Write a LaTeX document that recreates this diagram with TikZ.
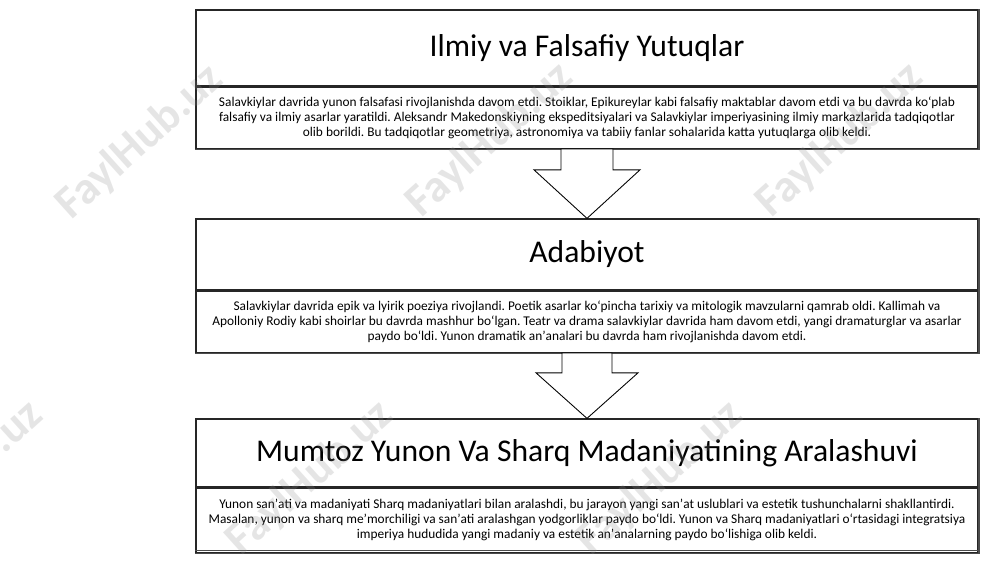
\documentclass[tikz,border=0pt]{standalone}
\usepackage{fontspec}
\setmainfont{Carlito}
\usetikzlibrary{calc}
\frenchspacing
\tikzset{
  titlebox/.style={draw=black!85, line width=0.7pt, fill=white, minimum width=156.4mm, inner sep=0pt, font=\fontsize{18}{21}\selectfont, text=black},
  bodybox/.style={draw=black!85, line width=0.7pt, fill=white, minimum width=156.4mm, inner sep=0pt, align=center, font=\fontsize{7.6}{8.6}\selectfont, text=black},
  shadowline/.style={draw=black!70, line width=0.9pt},
  bigarrow/.style={draw=black, line width=0.5pt, fill=white, line join=miter},
  wmark/.style={text=black!45, opacity=0.22, font=\fontsize{26}{30}\selectfont\bfseries, rotate=42}
}
\begin{document}
\begin{tikzpicture}[x=0.2mm,y=-0.2mm]
\useasboundingbox[fill=white] (0,0) rectangle (1000,562);

% Box 1
\node[titlebox, minimum height=15.2mm] (t1) at (587,48) {Ilmiy va Falsafiy Yutuqlar};
\node[bodybox, minimum height=12.2mm, anchor=north] (d1) at (t1.south) {Salavkiylar davrida yunon falsafasi rivojlanishda davom etdi. Stoiklar, Epikureylar kabi falsafiy maktablar davom etdi va bu davrda koʻplab\\ falsafiy va ilmiy asarlar yaratildi. Aleksandr Makedonskiyning ekspeditsiyalari va Salavkiylar imperiyasining ilmiy markazlarida tadqiqotlar\\ olib borildi. Bu tadqiqotlar geometriya, astronomiya va tabiiy fanlar sohalarida katta yutuqlarga olib keldi.};
\draw[shadowline] ($(d1.south west)+(0,0.6)$) -- ($(d1.south east)+(0.6,0.6)$) -- ($(t1.north east)+(0.6,0)$);

% Box 2
\node[titlebox, minimum height=14.2mm] (t2) at (587,254.5) {Adabiyot};
\node[bodybox, minimum height=12.2mm, anchor=north] (d2) at (t2.south) {Salavkiylar davrida epik va lyirik poeziya rivojlandi. Poetik asarlar koʻpincha tarixiy va mitologik mavzularni qamrab oldi. Kallimah va\\ Apolloniy Rodiy kabi shoirlar bu davrda mashhur boʻlgan. Teatr va drama salavkiylar davrida ham davom etdi, yangi dramaturglar va asarlar\\ paydo boʻldi. Yunon dramatik anʼanalari bu davrda ham rivojlanishda davom etdi.};
\draw[shadowline] ($(d2.south west)+(0,0.6)$) -- ($(d2.south east)+(0.6,0.6)$) -- ($(t2.north east)+(0.6,0)$);

% Box 3
\node[titlebox, minimum height=13.6mm] (t3) at (587,453) {Mumtoz Yunon Va Sharq Madaniyatining Aralashuvi};
\node[bodybox, minimum height=12.8mm, anchor=north] (d3) at (t3.south) {Yunon sanʼati va madaniyati Sharq madaniyatlari bilan aralashdi, bu jarayon yangi sanʼat uslublari va estetik tushunchalarni shakllantirdi.\\ Masalan, yunon va sharq meʼmorchiligi va sanʼati aralashgan yodgorliklar paydo boʻldi. Yunon va Sharq madaniyatlari oʻrtasidagi integratsiya\\ imperiya hududida yangi madaniy va estetik anʼanalarning paydo boʻlishiga olib keldi.};
\draw[shadowline] ($(d3.south west)+(0,-2.5)$) -- ($(d3.south east)+(0,-2.5)$);
\draw[shadowline] ($(d3.south west)+(0,0.6)$) -- ($(d3.south east)+(0.6,0.6)$) -- ($(t3.north east)+(0.6,0)$);

% Arrows
\draw[bigarrow] ($(d1.south)+(-26,0)$) -- ++(0,21) -- ++(-27,0) -- (t2.north) -- ($(d1.south)+(53,21)$) -- ++(-27,0) -- ++(0,-21) -- cycle;
\draw[bigarrow] ($(d2.south)+(-25,0)$) -- ++(0,20) -- ++(-26,0) -- (t3.north) -- ($(d2.south)+(51,20)$) -- ++(-26,0) -- ++(0,-20) -- cycle;

% Watermarks
\node[wmark] (w1) at (140,142) {FaylHub.uz};
\node[wmark] (w2) at (490,140) {FaylHub.uz};
\node[wmark] (w3) at (840,140) {FaylHub.uz};
\node[wmark] (w4) at (-40,478) {FaylHub.uz};
\node[wmark] (w5) at (310,478) {FaylHub.uz};
\node[wmark] (w6) at (660,478) {FaylHub.uz};
\end{tikzpicture}
\end{document}
